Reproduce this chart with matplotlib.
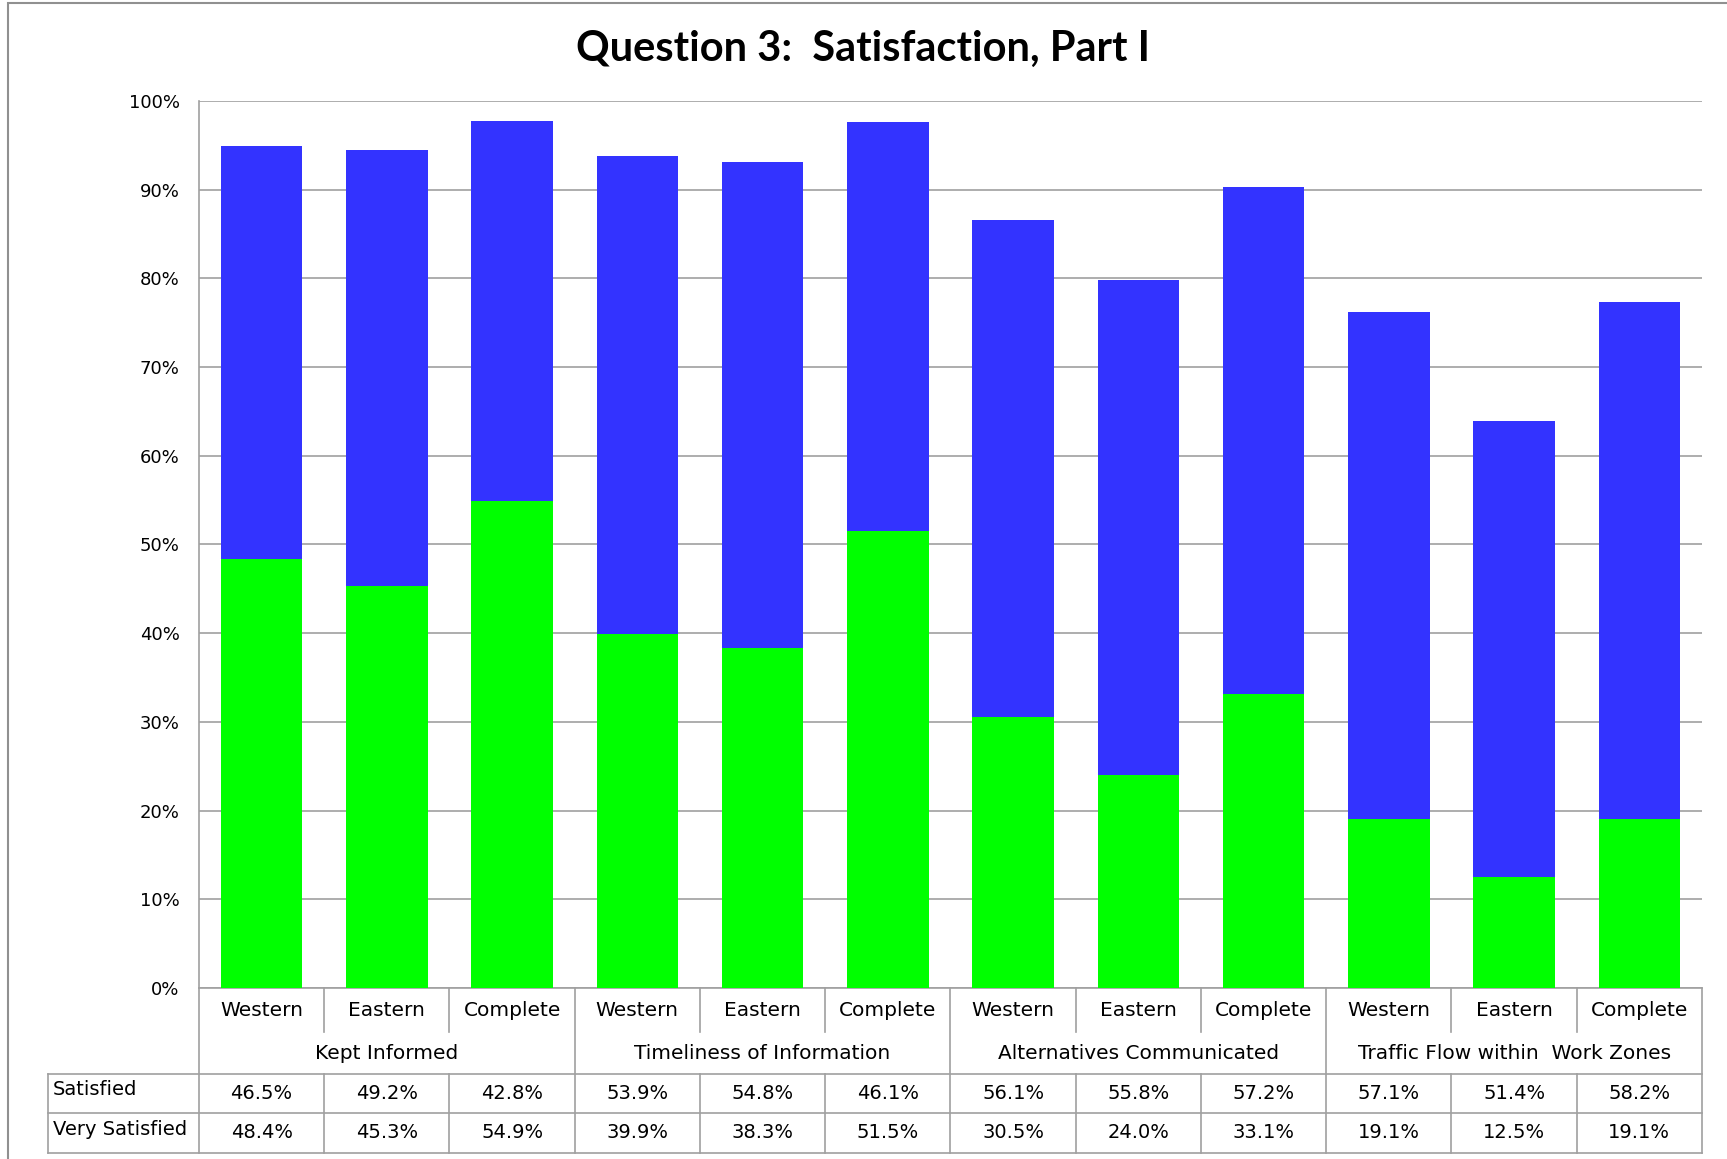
import matplotlib.pyplot as plt
import matplotlib.transforms as mtransforms
import numpy as np

regions = ["Western", "Eastern", "Complete"] * 4
groups = ["Kept Informed", "Timeliness of Information",
          "Alternatives Communicated", "Traffic Flow within  Work Zones"]
satisfied = [46.5, 49.2, 42.8, 53.9, 54.8, 46.1, 56.1, 55.8, 57.2, 57.1, 51.4, 58.2]
very_satisfied = [48.4, 45.3, 54.9, 39.9, 38.3, 51.5, 30.5, 24.0, 33.1, 19.1, 12.5, 19.1]
row_names = ["Satisfied", "Very Satisfied"]

green = "#00ff00"
blue = "#3333ff"
grid_c = "#a0a0a0"

fig = plt.figure(figsize=(17.27, 11.59), dpi=100)
ax = fig.add_axes([0.1152, 0.1475, 0.8703, 0.7654])

x = np.arange(len(regions))
ax.bar(x, very_satisfied, width=0.65, color=green, zorder=3)
ax.bar(x, satisfied, width=0.65, bottom=very_satisfied, color=blue, zorder=3)

ax.set_xlim(-0.5, len(regions) - 0.5)
ax.set_ylim(0, 100)
ax.set_yticks(np.arange(0, 101, 10))
ax.set_yticklabels([f"{v}%" for v in range(0, 101, 10)], fontsize=13)
ax.tick_params(axis="y", length=0, pad=14)
ax.set_xticks([])
ax.yaxis.grid(True, color=grid_c, linewidth=1.2, zorder=0)
for s in ["top", "right"]:
    ax.spines[s].set_visible(False)
ax.spines["left"].set_color(grid_c)
ax.spines["bottom"].set_color(grid_c)
ax.spines["left"].set_linewidth(1.2)
ax.spines["bottom"].set_linewidth(1.2)

# category labels and data table below the axis
tr = mtransforms.blended_transform_factory(ax.transData, ax.transAxes)
r1, r2, r3, r4 = -0.0497, -0.0969, -0.1404, -0.1863
left_edge = -1.705
lkw = dict(color=grid_c, linewidth=1.2, transform=tr, clip_on=False)

ax.plot([-0.5, -0.5], [0, r4], **lkw)
for i in range(1, len(regions) + 1):
    b = i - 0.5
    if i % 3 == 0:
        ax.plot([b, b], [0, r4], **lkw)
    else:
        ax.plot([b, b], [0, r1], **lkw)
        ax.plot([b, b], [r2, r4], **lkw)
ax.plot([left_edge, left_edge], [r2, r4], **lkw)
for yy in [r2, r3, r4]:
    ax.plot([left_edge, len(regions) - 0.5], [yy, yy], **lkw)

for i, r in enumerate(regions):
    ax.text(i, (0 + r1) / 2, r, ha="center", va="center", fontsize=14.5,
            transform=tr)
for g, name in enumerate(groups):
    ax.text(3 * g + 1, (r1 + r2) / 2, name, ha="center", va="center",
            fontsize=14.5, transform=tr)

for row, vals, (top, bot) in [(row_names[0], satisfied, (r2, r3)),
                              (row_names[1], very_satisfied, (r3, r4))]:
    ax.text(left_edge + 0.04, (top + bot) / 2 + 0.004, row, ha="left",
            va="center", fontsize=14, transform=tr)
    for i, v in enumerate(vals):
        ax.text(i, (top + bot) / 2, f"{v:.1f}%", ha="center", va="center",
                fontsize=14, transform=tr)

fig.text(0.5, 0.958, "Question 3:  Satisfaction, Part I", ha="center",
         va="center", fontsize=30, fontweight="bold", family="Lato")

# outer chart border
fig.add_artist(plt.Rectangle((0.0045, -0.01), 1.0, 1.007, fill=False,
                             edgecolor="#909090", linewidth=1.5,
                             transform=fig.transFigure))

fig.savefig("out.png", dpi=100)
